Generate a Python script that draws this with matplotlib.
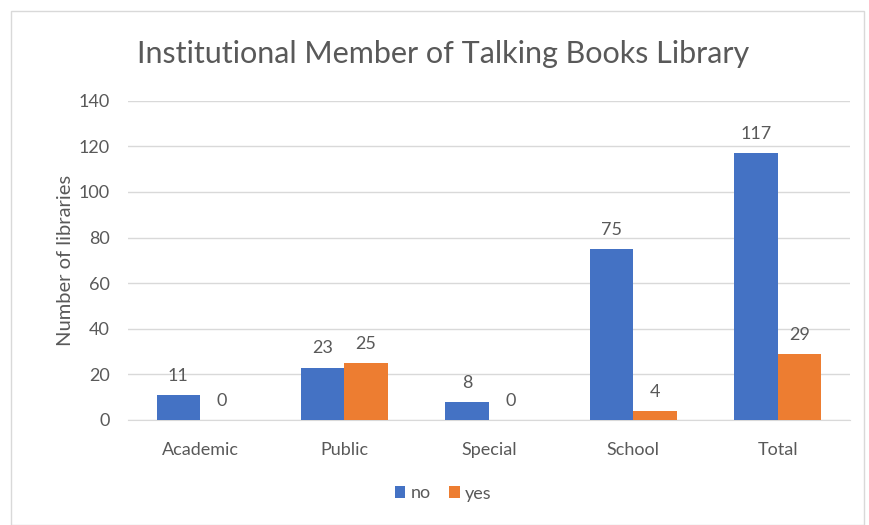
import matplotlib.pyplot as plt
import numpy as np

plt.rcParams['font.family'] = ['Lato', 'DejaVu Sans']

categories = ['Academic', 'Public', 'Special', 'School', 'Total']
no_vals = [11, 23, 8, 75, 117]
yes_vals = [0, 25, 0, 4, 29]
yticks = [0, 20, 40, 60, 80, 100, 120, 140]

blue = '#4472C4'
orange = '#ED7D31'
txt = '#595959'

fig = plt.figure(figsize=(8.69, 5.25), dpi=100)
ax = fig.add_axes([0.147, 0.2, 0.831, 0.608])

# outer chart border
fig.patches.append(plt.Rectangle((11/869, 0), 853/869, 1 - 11/525, transform=fig.transFigure,
                                 fill=False, edgecolor='#d9d9d9', linewidth=1))

x = np.arange(len(categories))
w = 0.3
b1 = ax.bar(x - w/2, no_vals, w, color=blue, label='no', zorder=3)
b2 = ax.bar(x + w/2, yes_vals, w, color=orange, label='yes', zorder=3)

for bars, vals in ((b1, no_vals), (b2, yes_vals)):
    for r, v in zip(bars, vals):
        ax.annotate(str(v), (r.get_x() + r.get_width()/2, v), xytext=(0, 8),
                    textcoords='offset points', ha='center', va='bottom',
                    fontsize=13, color=txt)

ax.set_xlim(-0.5, len(categories) - 0.5)
ax.set_ylim(0, 140)
ax.set_yticks(yticks)
ax.set_xticks(x)
ax.set_xticklabels(categories)
ax.grid(axis='y', color='#d9d9d9', linewidth=1, zorder=0)
for s in ('top', 'right', 'left'):
    ax.spines[s].set_visible(False)
ax.spines['bottom'].set_color('#d9d9d9')
ax.tick_params(axis='both', length=0, labelsize=13, labelcolor=txt)
ax.tick_params(axis='x', pad=16)
ax.tick_params(axis='y', pad=13)
ax.set_ylabel('Number of libraries', fontsize=14.5, color=txt, labelpad=3)

fig.text(0.51, 0.898, 'Institutional Member of Talking Books Library', ha='center', va='center',
         fontsize=22, color=txt)

fig.legend(loc='center', bbox_to_anchor=(0.51, 0.06), ncol=2, frameon=False,
           fontsize=13, handlelength=0.6, handleheight=0.6, handletextpad=0.3,
           columnspacing=1.0, labelcolor=txt)

fig.savefig('out.png', dpi=100)
